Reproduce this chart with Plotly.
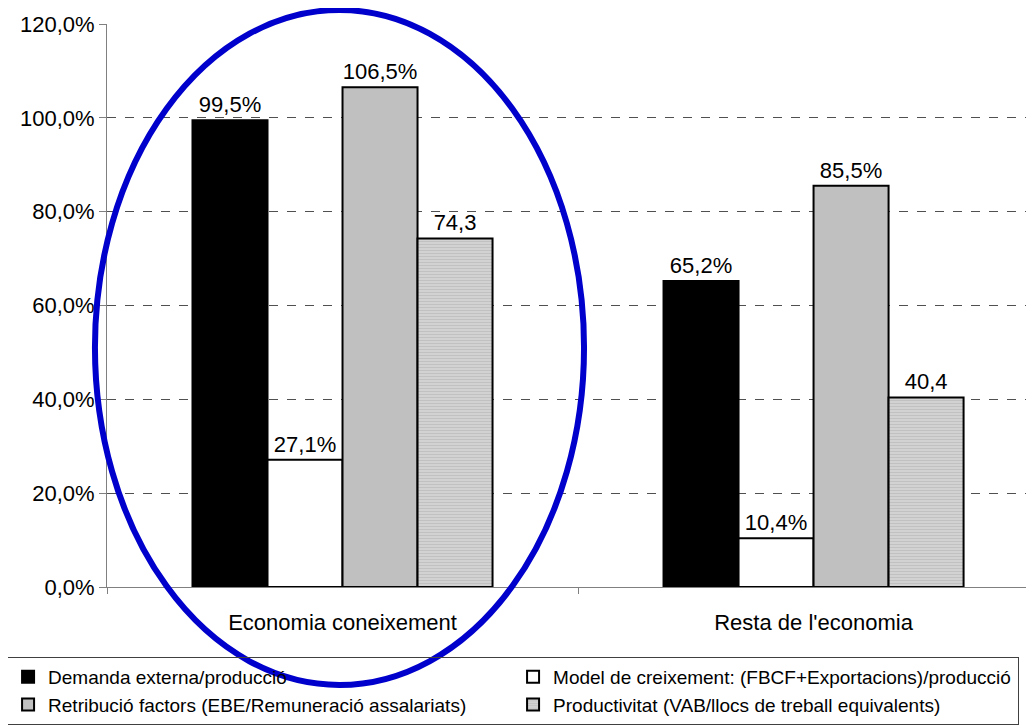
import plotly.graph_objects as go

# Categories and series values (percent)
categories = ["Economia coneixement", "Resta de l'economia"]
series_names = [
    "Demanda externa/producció",
    "Model de creixement: (FBCF+Exportacions)/producció",
    "Retribució factors (EBE/Remuneració assalariats)",
    "Productivitat (VAB/llocs de treball equivalents)",
]
demanda = [99.5, 65.2]
model = [27.1, 10.4]
retribucio = [106.5, 85.5]
productivitat = [74.3, 40.4]
labels_demanda = ["99,5%", "65,2%"]
labels_model = ["27,1%", "10,4%"]
labels_retribucio = ["106,5%", "85,5%"]
labels_productivitat = ["74,3", "40,4"]
y_ticks = [0, 20, 40, 60, 80, 100, 120]
y_ticktext = ["0,0%", "20,0%", "40,0%", "60,0%", "80,0%", "100,0%", "120,0%"]

FONT = "Liberation Sans, Arial, sans-serif"

fig = go.Figure()

styles = [
    dict(marker_color="#000000"),
    dict(marker_color="#FFFFFF"),
    dict(marker_color="#C0C0C0"),
    dict(marker=dict(color="#CDCDCD",
                     pattern=dict(shape="-", fgcolor="#B0B0B0", bgcolor="#D2D2D2",
                                  size=3, solidity=0.35))),
]
values = [demanda, model, retribucio, productivitat]
texts = [labels_demanda, labels_model, labels_retribucio, labels_productivitat]

for name, vals, txt, st in zip(series_names, values, texts, styles):
    fig.add_trace(go.Bar(
        x=categories, y=vals, name=name, text=txt,
        textposition="outside", cliponaxis=False,
        textfont=dict(family=FONT, size=22, color="#000000"),
        **st,
    ))

fig.update_traces(marker_line_color="#000000", marker_line_width=2)

# Blue ellipse around the first group
fig.add_shape(type="circle", xref="paper", yref="paper",
              x0=-0.013, x1=0.5146, y0=-0.174, y1=1.0249,
              line=dict(color="#0000CC", width=6), layer="above")

# the page body adds an 8px offset, so the figure is a bit smaller than the window
fig.update_layout(
    width=1026, height=717,
    margin=dict(l=99, r=0, t=16, b=138, autoexpand=False),
    paper_bgcolor="white", plot_bgcolor="white",
    separators=",.",
    barmode="group", bargap=0.363, bargroupgap=0,
    font=dict(family=FONT, size=22, color="#000000"),
    showlegend=True,
    legend=dict(
        orientation="h", x=-0.1078, y=-0.1243, xanchor="left", yanchor="top",
        entrywidth=460, entrywidthmode="pixels",
        bordercolor="#404040", borderwidth=1, bgcolor="rgba(0,0,0,0)",
        font=dict(family=FONT, size=19, color="#000000"),
        tracegroupgap=0, itemwidth=30,
    ),
    xaxis=dict(
        range=[-0.5, 1.468], showline=True, linecolor="#808080", linewidth=1,
        ticks="outside", tickson="boundaries", ticklen=6, tickcolor="#808080",
        ticklabelstandoff=16, showgrid=False, automargin=False,
        tickfont=dict(family=FONT, size=22),
    ),
    yaxis=dict(
        range=[0, 120], tickvals=y_ticks, ticktext=y_ticktext,
        showline=True, linecolor="#808080", linewidth=1,
        ticks="outside", ticklen=7, tickcolor="#808080", automargin=False,
        showgrid=True, gridcolor="#505050", griddash="dash", gridwidth=1,
        zeroline=False, tickfont=dict(family=FONT, size=22),
    ),
)

fig.write_html("out.html")
